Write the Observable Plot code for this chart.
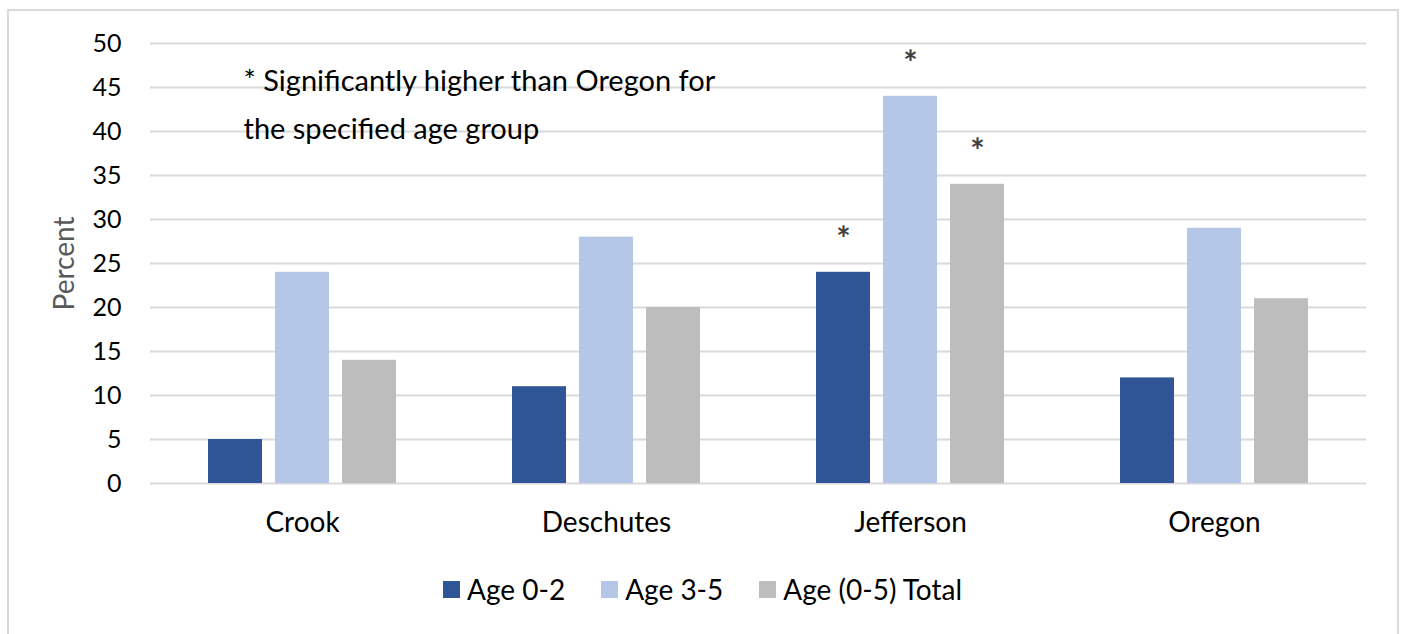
<!DOCTYPE html>
<html>
<head>
<meta charset="utf-8">
<script src="https://cdn.jsdelivr.net/npm/d3@7"></script>
<script src="https://cdn.jsdelivr.net/npm/@observablehq/plot@0.6"></script>
<style>
  html, body { margin: 0; padding: 0; background: #fff; overflow: hidden; }
  #wrap { position: relative; width: 1405px; height: 634px; font-family: Lato, "Open Sans", sans-serif; }
  #frame { position: absolute; left: 7px; top: 9px; width: 1392px; height: 700px; border: 2px solid #d9d9d9; border-bottom: none; box-sizing: border-box; }
  #chart { position: absolute; left: 0; top: 0; }
  #legend { position: absolute; left: 0; top: 572px; width: 1405px; }
  #legend > div { justify-content: center; font-family: Lato, sans-serif !important; font-size: 28px !important; color: #000 !important; margin: 0 !important; }
  #legend span { margin-right: 36px !important; }
  #legend span:last-child { margin-right: 0 !important; }
  #legend span svg { margin-right: 7px !important; }
</style>
</head>
<body>
<div id="wrap">
  <div id="frame"></div>
  <div id="chart"></div>
  <div id="legend"></div>
</div>
<script>
const counties = ["Crook", "Deschutes", "Jefferson", "Oregon"];
const groups = ["Age 0-2", "Age 3-5", "Age (0-5) Total"];
const age02 = [5, 11, 24, 12];
const age35 = [24, 28, 44, 29];
const ageTotal = [14, 20, 34, 21];
const sig02 = [false, false, true, false];
const sig35 = [false, false, true, false];
const sigTotal = [false, false, true, false];
const yTicks = [0, 5, 10, 15, 20, 25, 30, 35, 40, 45, 50];
const colors = ["#2F5597", "#B4C7E7", "#BDBDBD"];
const note = "* Significantly higher than Oregon for\nthe specified age group";

const series = [age02, age35, ageTotal];
const sigs = [sig02, sig35, sigTotal];
const rows = [];
counties.forEach((c, i) => groups.forEach((g, j) => rows.push({county: c, group: g, value: series[j][i], sig: sigs[j][i]})));

const chart = Plot.plot({
  width: 1405,
  height: 550,
  marginLeft: 149,
  marginRight: 39,
  marginTop: 43,
  marginBottom: 67,
  style: {fontFamily: "Lato, sans-serif", fontSize: "25px", color: "#000", background: "transparent", overflow: "visible"},
  fx: {domain: counties, padding: 0, label: null, tickSize: 0, tickPadding: 29, axis: "bottom"},
  x: {domain: groups, paddingInner: 0.2, paddingOuter: 0.84, axis: null},
  y: {domain: [0, 50], ticks: yTicks, tickSize: 0, tickPadding: 29, label: null, grid: true},
  color: {domain: groups, range: colors},
  marks: [
    Plot.ruleY(yTicks, {stroke: "#d9d9d9", strokeWidth: 2}),
    Plot.barY(rows, {fx: "county", x: "group", y: "value", fill: "group"}),
    Plot.text(rows.filter(d => d.sig), {fx: "county", x: "group", y: "value", text: () => "*", lineAnchor: "bottom", dy: -21, fontSize: 34, fontWeight: "bold", fill: "#404040"}),
    Plot.text([counties[0]], {fx: d => d, text: () => note, frameAnchor: "top-left", textAnchor: "start", lineAnchor: "top", lineHeight: 1.65, dx: 93, dy: 14, fontSize: 29, fill: "#000"}),
    Plot.text([counties[0]], {fx: d => d, text: () => "Percent", frameAnchor: "left", textAnchor: "middle", rotate: -90, dx: -85, fontSize: 28, fill: "#595959"})
  ]
});
chart.querySelectorAll('[aria-label="fx-axis tick label"] text, [aria-label="fx-axis"] text').forEach(t => t.setAttribute("font-size", "28px"));
document.getElementById("chart").appendChild(chart);

const legend = Plot.legend({color: {domain: groups, range: colors}, swatchSize: 17, style: {fontFamily: "Lato, sans-serif", fontSize: "28px"}});
document.getElementById("legend").appendChild(legend);
</script>
</body>
</html>
